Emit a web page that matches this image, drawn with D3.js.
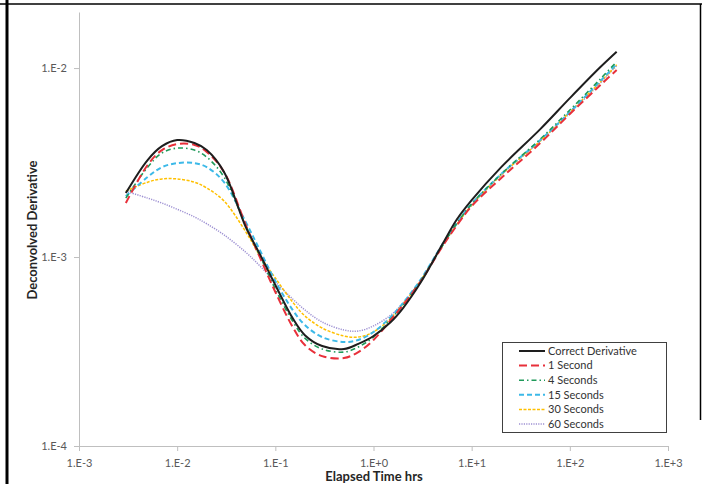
<!DOCTYPE html>
<html><head><meta charset="utf-8">
<script src="https://cdn.jsdelivr.net/npm/d3@7"></script>
<style>
body{margin:0;background:#fff;}
svg{display:block;font-family:Lato,"Open Sans",sans-serif;}
</style></head>
<body>
<svg id="chart" width="702" height="484"></svg>
<script>
// Elapsed time (hrs)
const times = [0.003,0.005,0.007,0.01,0.015,0.02,0.03,0.05,0.07,0.1,0.15,0.2,0.3,0.5,0.7,1,1.5,2,3,5,7,10,20,50,100,200,300];
const correctDerivative = [2.18e-3,3.26e-3,3.86e-3,4.16e-3,4.01e-3,3.68e-3,2.82e-3,1.44e-3,1.03e-3,7.11e-4,4.75e-4,3.86e-4,3.38e-4,3.26e-4,3.47e-4,3.82e-4,4.53e-4,5.37e-4,7.28e-4,1.16e-3,1.57e-3,2.00e-3,2.99e-3,4.75e-3,6.93e-3,1.00e-2,1.22e-2];
const oneSecond = [1.93e-3,3.07e-3,3.68e-3,3.96e-3,3.92e-3,3.60e-3,2.82e-3,1.48e-3,9.89e-4,6.53e-4,4.27e-4,3.42e-4,2.99e-4,2.92e-4,3.14e-4,3.64e-4,4.65e-4,5.57e-4,7.38e-4,1.13e-3,1.46e-3,1.86e-3,2.62e-3,4.01e-3,5.71e-3,8.04e-3,9.76e-3];
const fourSeconds = [2.05e-3,2.99e-3,3.55e-3,3.77e-3,3.68e-3,3.38e-3,2.65e-3,1.46e-3,1.01e-3,6.77e-4,4.58e-4,3.72e-4,3.26e-4,3.14e-4,3.34e-4,3.77e-4,4.70e-4,5.57e-4,7.46e-4,1.14e-3,1.50e-3,1.91e-3,2.75e-3,4.21e-3,6.00e-3,8.65e-3,1.08e-2];
const fifteenSeconds = [2.10e-3,2.65e-3,2.99e-3,3.14e-3,3.14e-3,2.99e-3,2.49e-3,1.53e-3,1.08e-3,7.46e-4,5.25e-4,4.37e-4,3.77e-4,3.55e-4,3.64e-4,4.01e-4,4.82e-4,5.71e-4,7.55e-4,1.16e-3,1.50e-3,1.91e-3,2.75e-3,4.16e-3,5.85e-3,8.44e-3,1.05e-2];
const thirtySeconds = [2.23e-3,2.49e-3,2.59e-3,2.59e-3,2.49e-3,2.32e-3,1.98e-3,1.36e-3,1.01e-3,7.74e-4,5.78e-4,4.88e-4,4.21e-4,3.82e-4,3.77e-4,4.01e-4,4.75e-4,5.64e-4,7.46e-4,1.14e-3,1.48e-3,1.88e-3,2.72e-3,4.11e-3,5.85e-3,8.34e-3,1.04e-2];
const sixtySeconds = [2.23e-3,2.05e-3,1.93e-3,1.79e-3,1.63e-3,1.50e-3,1.31e-3,1.06e-3,8.95e-4,7.38e-4,6.00e-4,5.25e-4,4.53e-4,4.11e-4,4.06e-4,4.32e-4,4.93e-4,5.71e-4,7.46e-4,1.14e-3,1.48e-3,1.88e-3,2.72e-3,4.11e-3,5.78e-3,8.23e-3,1.03e-2];

const seriesNames = ["Correct Derivative","1 Second","4 Seconds","15 Seconds","30 Seconds","60 Seconds"];
const xTickValues = [1e-3,1e-2,1e-1,1e0,1e1,1e2,1e3];
const xTickLabels = ["1.E-3","1.E-2","1.E-1","1.E+0","1.E+1","1.E+2","1.E+3"];
const yTickValues = [1e-4,1e-3,1e-2];
const yTickLabels = ["1.E-4","1.E-3","1.E-2"];

const series = [
  {name:seriesNames[0], values:correctDerivative, color:"#1e1e1e", width:2, dash:null},
  {name:seriesNames[1], values:oneSecond, color:"#e8303a", width:2, dash:"8,4"},
  {name:seriesNames[2], values:fourSeconds, color:"#1f9a5a", width:1.6, dash:"5,3,1.5,3"},
  {name:seriesNames[3], values:fifteenSeconds, color:"#3cb9e8", width:2, dash:"5,3"},
  {name:seriesNames[4], values:thirtySeconds, color:"#ffc000", width:1.5, dash:"3,1.5"},
  {name:seriesNames[5], values:sixtySeconds, color:"#9d90d2", width:1.5, dash:"1.2,1.2"}
];

const svg = d3.select("#chart");
const x = d3.scaleLog().domain([1e-3,1e3]).range([79,668]);
const y = d3.scaleLog().domain([1e-4,0.0198]).range([446,12]);

// frame lines
svg.append("line").attr("x1",0).attr("x2",702).attr("y1",4).attr("y2",4).attr("stroke","#000").attr("stroke-width",1.5);
svg.append("line").attr("x1",7).attr("x2",7).attr("y1",0).attr("y2",484).attr("stroke","#000").attr("stroke-width",3);
svg.append("line").attr("x1",700.5).attr("x2",700.5).attr("y1",4).attr("y2",420).attr("stroke","#000").attr("stroke-width",1.5);

const axisColor = "#bfbfbf";
const xAxis = svg.append("g").attr("transform","translate(0,446)")
  .call(d3.axisBottom(x).tickValues(xTickValues).tickFormat((d,i)=>xTickLabels[i]).tickSize(5).tickSizeOuter(0));
const yAxis = svg.append("g").attr("transform","translate(79,0)")
  .call(d3.axisLeft(y).tickValues(yTickValues).tickFormat((d,i)=>yTickLabels[i]).tickSize(5).tickSizeOuter(0));
[xAxis,yAxis].forEach(g=>{
  g.select(".domain").attr("stroke",axisColor);
  g.selectAll(".tick line").attr("stroke",axisColor);
  g.selectAll(".tick text").attr("fill","#595959").style("font-size","11px").style("font-family","Lato,sans-serif");
});
xAxis.selectAll(".tick text").attr("dy","0.71em").attr("y",13);
yAxis.selectAll(".tick text").attr("x",-12);

const line = d3.line().x((d)=>x(d[0])).y((d)=>y(d[1])).curve(d3.curveCatmullRom.alpha(0.5));
// draw in reverse order so the correct derivative is on top
series.slice().reverse().forEach(s=>{
  svg.append("path").datum(times.map((t,i)=>[t,s.values[i]]))
    .attr("fill","none").attr("stroke",s.color).attr("stroke-width",s.width)
    .attr("stroke-dasharray",s.dash).attr("d",line);
});

// axis titles
svg.append("text").attr("x",374).attr("y",481).attr("text-anchor","middle")
  .style("font-size","13px").style("font-weight","bold").attr("fill","#262626").text("Elapsed Time hrs");
svg.append("text").attr("transform","translate(37,230) rotate(-90)").attr("text-anchor","middle")
  .style("font-size","13px").style("font-weight","bold").attr("fill","#262626").text("Deconvolved Derivative");

// legend
const lg = svg.append("g");
lg.append("rect").attr("x",502.5).attr("y",342.5).attr("width",164).attr("height",90)
  .attr("fill","#fff").attr("stroke","#404040").attr("stroke-width",1);
series.forEach((s,i)=>{
  const cy = 351 + i*14.6;
  lg.append("line").attr("x1",519).attr("x2",545).attr("y1",cy).attr("y2",cy)
    .attr("stroke",s.color).attr("stroke-width",s.width).attr("stroke-dasharray",s.dash);
  lg.append("text").attr("x",548).attr("y",cy).attr("dy","0.35em")
    .style("font-size","11px").attr("fill","#333").text(s.name);
});
</script>
</body></html>
